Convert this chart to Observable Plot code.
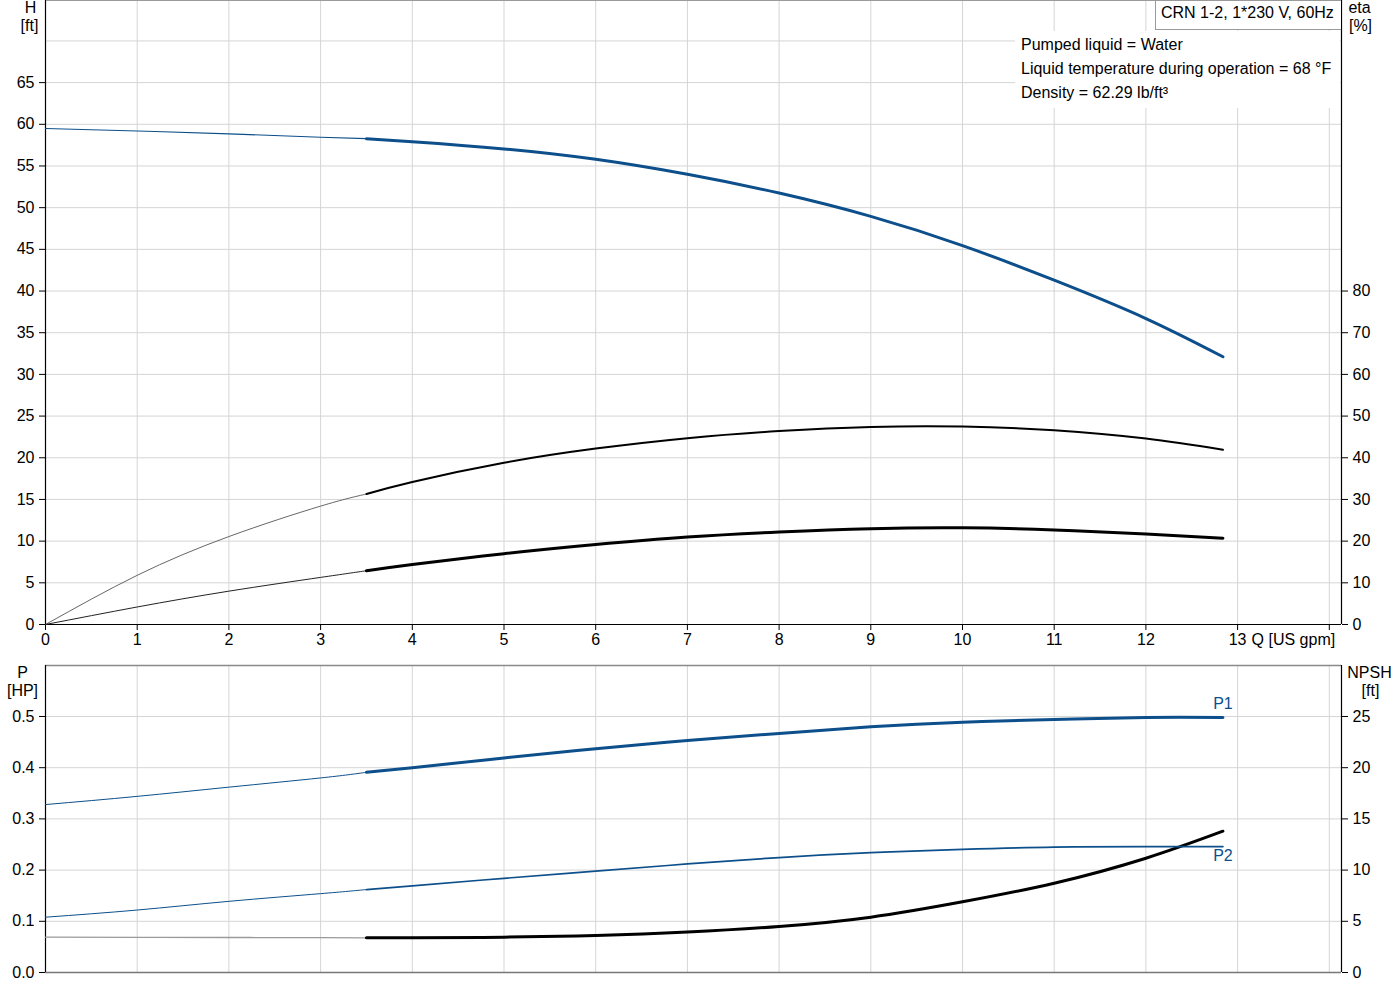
<!DOCTYPE html>
<html>
<head>
<meta charset="utf-8">
<script src="https://cdn.jsdelivr.net/npm/d3@7"></script>
<script src="https://cdn.jsdelivr.net/npm/@observablehq/plot@0.6"></script>
<style>
  html, body { margin: 0; padding: 0; background: #fff; }
  body { font-family: "Liberation Sans", Arial, sans-serif; }
  #wrap { position: relative; width: 1400px; height: 1000px; overflow: hidden; }
  #wrap svg { position: absolute; left: 0; overflow: visible; }
  #titlebox { position: absolute; left: 1155px; top: 0px; width: 180px; height: 28px;
    border: 1px solid #9a9a9a; border-right: none; background: #fff; font-size: 16px; line-height: 24px;
    padding-left: 5px; color: #000; white-space: nowrap; }
  #infobox { position: absolute; left: 1015px; top: 31px; width: 325px; height: 77px; background: #fff;
    font-size: 16px; line-height: 24px; padding-left: 6px; padding-top: 2px; box-sizing: border-box; color: #000; white-space: nowrap; }
</style>
</head>
<body>
<div id="wrap"></div>
<script>
// ---- data ----
const Q = [0, 1, 2, 3, 3.5, 4, 5, 6, 7, 8, 9, 10, 11, 12, 12.84];          // flow [US gpm]
const head = [59.5, 59.2, 58.85, 58.45, 58.28, 57.92, 57.05, 55.8, 54.0, 51.75, 48.95, 45.45, 41.3, 36.7, 32.12]; // H [ft]
const etaPump = [0, 11.8, 21.1, 28.4, 31.3, 34.2, 38.8, 42.2, 44.7, 46.4, 47.4, 47.5, 46.6, 44.6, 41.9];   // eta [%]
const etaTotal = [0, 4.2, 8.0, 11.3, 12.9, 14.4, 17.0, 19.2, 21.0, 22.2, 23.0, 23.2, 22.7, 21.7, 20.7];     // eta [%]
const p1 = [0.328, 0.344, 0.362, 0.380, 0.391, 0.400, 0.419, 0.437, 0.453, 0.467, 0.480, 0.489, 0.494, 0.498, 0.498]; // P1 [HP]
const p2 = [0.108, 0.122, 0.139, 0.154, 0.162, 0.169, 0.184, 0.198, 0.212, 0.2245, 0.234, 0.2405, 0.245, 0.246, 0.246]; // P2 [HP]
const npsh = [3.45, 3.43, 3.42, 3.40, 3.39, 3.39, 3.45, 3.62, 3.95, 4.49, 5.4, 6.9, 8.72, 11.16, 13.8];  // NPSH [ft]
const dutyStart = 3.5;

const xTickLabels = d3.range(0, 14);   // 0..13
const xGrid = d3.range(0, 15);         // 0..14
const hTicks = d3.range(0, 70, 5);     // 0..65
const hGrid = d3.range(5, 75, 5);      // 5..70
const etaTicks = d3.range(0, 90, 10);  // 0..80 %
const pTicks = d3.range(0, 6).map(d => d / 10); // 0.0..0.5
const npshTicks = d3.range(0, 30, 5);  // 0..25 ft
const titleText = "CRN 1-2, 1*230 V, 60Hz";
const infoLines = ["Pumped liquid = Water", "Liquid temperature during operation = 68 °F", "Density = 62.29 lb/ft³"];

// ---- scales setup ----
const xMax = 14.133;
const hMax = 74.85;
const pMax = 0.5996;
const etaPerH = 2;     // eta [%] = 2 * H [ft] on the shared vertical scale
const npshPerP = 50;   // NPSH [ft] = 50 * P [HP]

const BLUE = "#0c4f8b";
const GRID = "#d5d5d5";
const FONT = "'Liberation Sans', Arial, sans-serif";

const rows = vals => Q.map((q, i) => ({q, v: vals[i]}));
const thin = vals => rows(vals).filter(d => d.q <= dutyStart);
const thick = vals => rows(vals).filter(d => d.q >= dutyStart);
const curve = "natural";
const lbl = (t, anchor, dx, dy) => Plot.text([t], {frameAnchor: anchor, dx, dy, textAnchor: "middle", lineAnchor: "middle"});

const topPlot = Plot.plot({
  width: 1400, height: 650,
  marginLeft: 45, marginRight: 59, marginTop: 0, marginBottom: 26,
  x: {domain: [0, xMax]},
  y: {domain: [0, hMax]},
  style: {fontFamily: FONT, fontSize: "16px", color: "#000", background: "transparent", overflow: "visible"},
  marks: [
    Plot.gridX(xGrid, {stroke: GRID, strokeOpacity: 1}),
    Plot.gridY(hGrid, {stroke: GRID, strokeOpacity: 1}),
    Plot.ruleY([hMax], {stroke: "#9a9a9a"}),
    Plot.axisX(xTickLabels, {tickSize: 6, tickPadding: 3, label: null, tickFormat: d => String(d)}),
    Plot.axisX([14], {tickSize: 6, label: null, tickFormat: () => ""}),
    Plot.axisY(hTicks, {anchor: "left", tickSize: 6, tickPadding: 5, label: null}),
    Plot.axisY(etaTicks.map(e => e / etaPerH), {anchor: "right", tickSize: 6, tickPadding: 5, label: null, tickFormat: d => String(Math.round(d * etaPerH))}),
    Plot.ruleY([0], {stroke: "#000", strokeWidth: 1.2}),
    Plot.ruleX([0], {stroke: "#000", strokeWidth: 1.2}),
    Plot.ruleX([xMax], {stroke: "#000", strokeWidth: 1.2}),
    Plot.text([{q: 13, label: "Q [US gpm]"}], {x: "q", y: () => 0, text: "label", dx: 14, dy: 9, lineAnchor: "top", textAnchor: "start"}),
    lbl("H", "top-left", -15, 7),
    lbl("[ft]", "top-left", -16, 25),
    lbl("eta", "top-right", 18, 7),
    lbl("[%]", "top-right", 19, 25),
    // efficiency curves
    Plot.line(thin(etaPump), {x: "q", y: d => d.v / etaPerH, stroke: "#555", strokeWidth: 0.9, curve}),
    Plot.line(thick(etaPump), {x: "q", y: d => d.v / etaPerH, stroke: "#000", strokeWidth: 2, curve}),
    Plot.line(thin(etaTotal), {x: "q", y: d => d.v / etaPerH, stroke: "#222", strokeWidth: 1, curve}),
    Plot.line(thick(etaTotal), {x: "q", y: d => d.v / etaPerH, stroke: "#000", strokeWidth: 3, curve}),
    // head curve
    Plot.line(thin(head), {x: "q", y: "v", stroke: BLUE, strokeWidth: 1.1, curve}),
    Plot.line(thick(head), {x: "q", y: "v", stroke: BLUE, strokeWidth: 3, curve})
  ]
});
topPlot.style.top = "0px";

const bottomPlot = Plot.plot({
  width: 1400, height: 350,
  marginLeft: 45, marginRight: 59, marginTop: 15, marginBottom: 28,
  x: {domain: [0, xMax], axis: null},
  y: {domain: [0, pMax], axis: null},
  style: {fontFamily: FONT, fontSize: "16px", color: "#000", background: "transparent", overflow: "visible"},
  marks: [
    Plot.gridX(xGrid.filter(d => d > 0), {stroke: GRID, strokeOpacity: 1}),
    Plot.gridY(pTicks.filter(d => d > 0), {stroke: GRID, strokeOpacity: 1}),
    Plot.ruleY([pMax], {stroke: "#8a8a8a", strokeWidth: 1.3}),
    Plot.ruleY([0], {stroke: "#777", strokeWidth: 1.3}),
    Plot.axisY(pTicks, {anchor: "left", tickSize: 6, tickPadding: 5, label: null, tickFormat: d3.format(".1f")}),
    Plot.axisY(npshTicks.map(n => n / npshPerP), {anchor: "right", tickSize: 6, tickPadding: 5, label: null, tickFormat: d => String(Math.round(d * npshPerP))}),
    Plot.ruleX([0], {stroke: "#000", strokeWidth: 1.2}),
    Plot.ruleX([xMax], {stroke: "#000", strokeWidth: 1.2}),
    lbl("P", "top-left", -23, 7),
    lbl("[HP]", "top-left", -23, 25),
    lbl("NPSH", "top-right", 28, 7),
    lbl("[ft]", "top-right", 29, 25),
    // NPSH
    Plot.line(thin(npsh), {x: "q", y: d => d.v / npshPerP, stroke: "#9a9a9a", strokeWidth: 1.3, curve}),
    Plot.line(thick(npsh), {x: "q", y: d => d.v / npshPerP, stroke: "#000", strokeWidth: 3, curve}),
    // P2
    Plot.line(thin(p2), {x: "q", y: "v", stroke: BLUE, strokeWidth: 1, curve}),
    Plot.line(thick(p2), {x: "q", y: "v", stroke: BLUE, strokeWidth: 1.7, curve}),
    // P1
    Plot.line(thin(p1), {x: "q", y: "v", stroke: BLUE, strokeWidth: 1, curve}),
    Plot.line(thick(p1), {x: "q", y: "v", stroke: BLUE, strokeWidth: 3, curve}),
    Plot.text(rows(p1).slice(-1), {x: "q", y: "v", text: () => "P1", fill: BLUE, dy: -14}),
    Plot.text(rows(p2).slice(-1), {x: "q", y: "v", text: () => "P2", fill: BLUE, dy: 9})
  ]
});
bottomPlot.style.top = "650px";

const wrap = document.getElementById("wrap");
wrap.appendChild(topPlot);
wrap.appendChild(bottomPlot);

const info = document.createElement("div");
info.id = "infobox";
info.innerHTML = infoLines.map(t => `<div>${t}</div>`).join("");
wrap.appendChild(info);

const title = document.createElement("div");
title.id = "titlebox";
title.textContent = titleText;
wrap.appendChild(title);
</script>
</body>
</html>
